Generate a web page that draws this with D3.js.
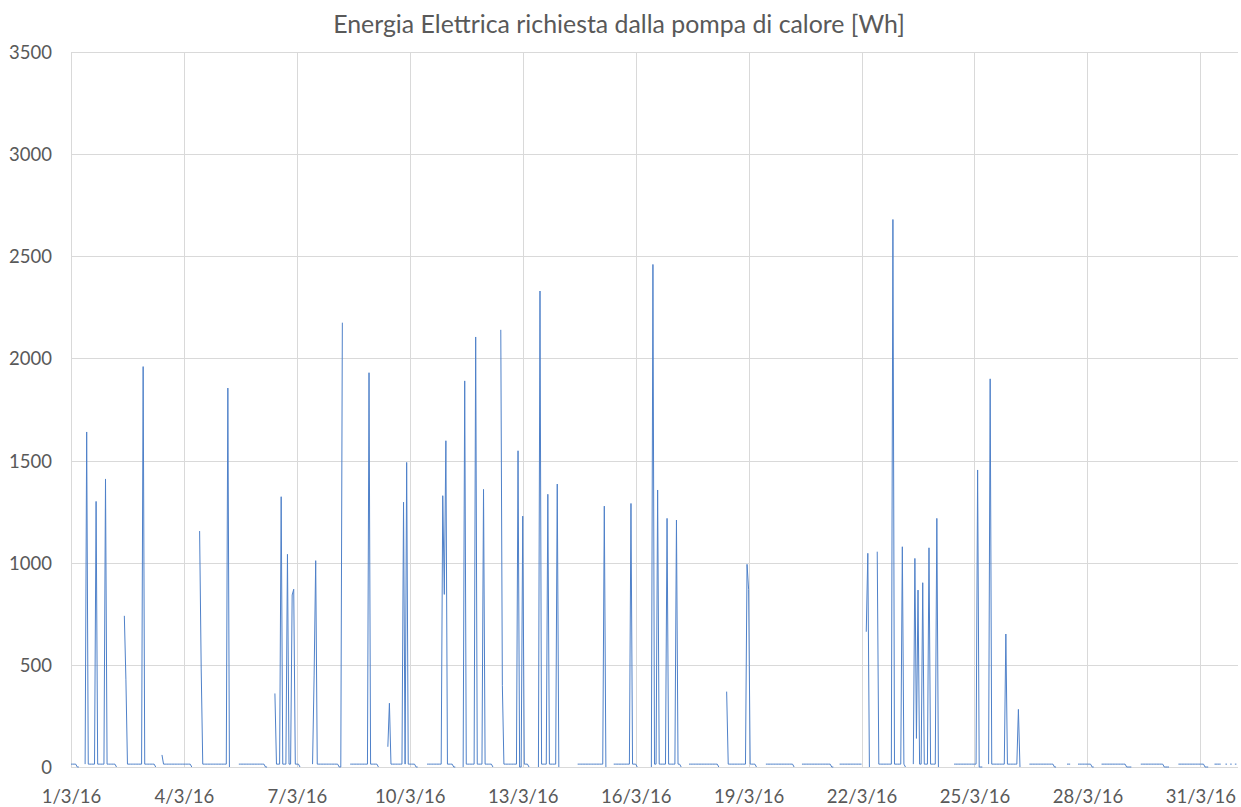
<!DOCTYPE html>
<html><head><meta charset="utf-8">
<script src="https://cdn.jsdelivr.net/npm/d3@7"></script>
<style>body{margin:0;background:#fff}svg{display:block}</style>
</head><body>
<svg id="chart" width="1241" height="807"></svg>
<script>
// ---------------- data (hourly, March 2016, 744 hours) ----------------
const chartTitle = "Energia Elettrica richiesta dalla pompa di calore [Wh]";
const hoursCount = 744;
const dateLabels = ["1/3/16","4/3/16","7/3/16","10/3/16","13/3/16","16/3/16","19/3/16","22/3/16","25/3/16","28/3/16","31/3/16"];
const labelHours = [0,72,144,216,288,360,432,504,576,648,720];
const yTicks = [0,500,1000,1500,2000,2500,3000,3500];
const standbyWh = 14;
// hour ranges (inclusive) where the pump draws standby energy
const standbyRuns = [[0,3],[9,28],[36,53],[59,76],[84,99],[107,123],[131,145],[154,170],[178,195],[204,219],[227,243],[252,268],[276,291],[300,310],[323,339],[346,360],[372,388],[394,412],[419,436],[443,460],[466,484],[490,504],[515,531],[537,552],[563,578],[585,603],[611,626],[635,637],[642,650],[657,672],[682,696],[706,722],[729,733],[736,737],[739,740],[742,743]];
// hour ranges (inclusive) with 0 Wh
const zeroRuns = [[4,5],[29,29],[54,54],[77,77],[101,101],[124,125],[146,146],[171,172],[196,196],[220,221],[244,245],[250,250],[269,269],[286,287],[292,292],[298,298],[311,311],[341,341],[361,361],[370,370],[389,389],[413,413],[437,437],[461,461],[485,486],[509,509],[532,532],[553,553],[579,581],[605,605],[627,628],[651,652],[673,676],[697,700],[723,725]];
// [hour, Wh] readings above standby
const peaks = [[10,1640],[16,1300],[22,1410],[34,740],[35,430],[46,1960],[58,59],[82,1155],[83,480],[100,1855],[130,360],[134,1323],[138,1041],[141,842],[142,870],[155,450],[156,1010],[173,2175],[190,1930],[202,99],[203,312],[212,1296],[214,1491],[237,1328],[238,845],[239,1597],[251,1890],[258,2105],[263,1359],[274,2140],[275,400],[285,1548],[288,1228],[299,2330],[304,1335],[310,1385],[340,1277],[357,1290],[371,2460],[374,1356],[380,1217],[386,1209],[418,369],[431,992],[432,870],[507,662],[508,1046],[514,1054],[524,2680],[530,1078],[538,1021],[539,140],[540,866],[543,902],[547,1073],[552,1217],[578,1454],[586,1900],[596,651],[604,282]];

// assemble hourly table (null = missing reading)
const values = new Array(hoursCount).fill(null);
standbyRuns.forEach(([a,b]) => { for (let h=a; h<=b; h++) values[h] = standbyWh; });
zeroRuns.forEach(([a,b]) => { for (let h=a; h<=b; h++) values[h] = 0; });
peaks.forEach(([h,v]) => { values[h] = v; });
const series = values.map((v,i) => ({h:i, v:v}));

// ---------------- drawing ----------------
const svg = d3.select("#chart");
const plotL = 71, plotR = 1238, plotT = 52, plotB = 767;
const x = d3.scaleLinear().domain([0, hoursCount]).range([plotL, plotR]);
const y = d3.scaleLinear().domain([0, 3500]).range([plotB, plotT]);
const textColor = "#595959", gridColor = "#D9D9D9";
const fontFam = "Lato, 'Open Sans', sans-serif";

svg.append("rect").attr("width",1241).attr("height",807).attr("fill","#fff");

// grid
svg.append("g").selectAll("line").data(yTicks).join("line")
  .attr("x1", plotL).attr("x2", plotR)
  .attr("y1", d => Math.round(y(d))+0.5).attr("y2", d => Math.round(y(d))+0.5)
  .attr("stroke", gridColor).attr("stroke-width", 1);
svg.append("g").selectAll("line").data(labelHours).join("line")
  .attr("x1", d => Math.round(x(d))+0.5).attr("x2", d => Math.round(x(d))+0.5)
  .attr("y1", plotT).attr("y2", plotB)
  .attr("stroke", gridColor).attr("stroke-width", 1);

// axes
const yAxis = svg.append("g").attr("transform", `translate(${plotL-19},0)`)
  .call(d3.axisLeft(y).tickValues(yTicks).tickSize(0).tickPadding(0).tickFormat(d3.format("d")));
const xAxis = svg.append("g").attr("transform", `translate(0,${plotB})`)
  .call(d3.axisBottom(x).tickValues(labelHours).tickSize(0).tickPadding(23)
    .tickFormat((d,i) => dateLabels[i]));
[yAxis, xAxis].forEach(g => {
  g.select(".domain").remove();
  g.selectAll("text").attr("fill", textColor).style("font-family", fontFam);
});
yAxis.selectAll("text").style("font-size","18.5px").attr("dy","0.35em");
xAxis.selectAll("text").style("font-size","18.5px");

// series line
const line = d3.line().defined(d => d.v !== null).x(d => x(d.h)).y(d => y(d.v));
svg.append("path").datum(series)
  .attr("d", line).attr("fill","none")
  .attr("stroke","#4F81C9").attr("stroke-width",1)
  .attr("stroke-linejoin","round");

// title
const t = svg.append("text").attr("x", 619).attr("y", 33)
  .attr("text-anchor","middle").attr("fill", textColor)
  .style("font-family", fontFam).style("font-size","20px").text(chartTitle);
const w = t.node().getComputedTextLength();
t.style("font-size", (20*572/w).toFixed(2)+"px");
</script>
</body></html>
